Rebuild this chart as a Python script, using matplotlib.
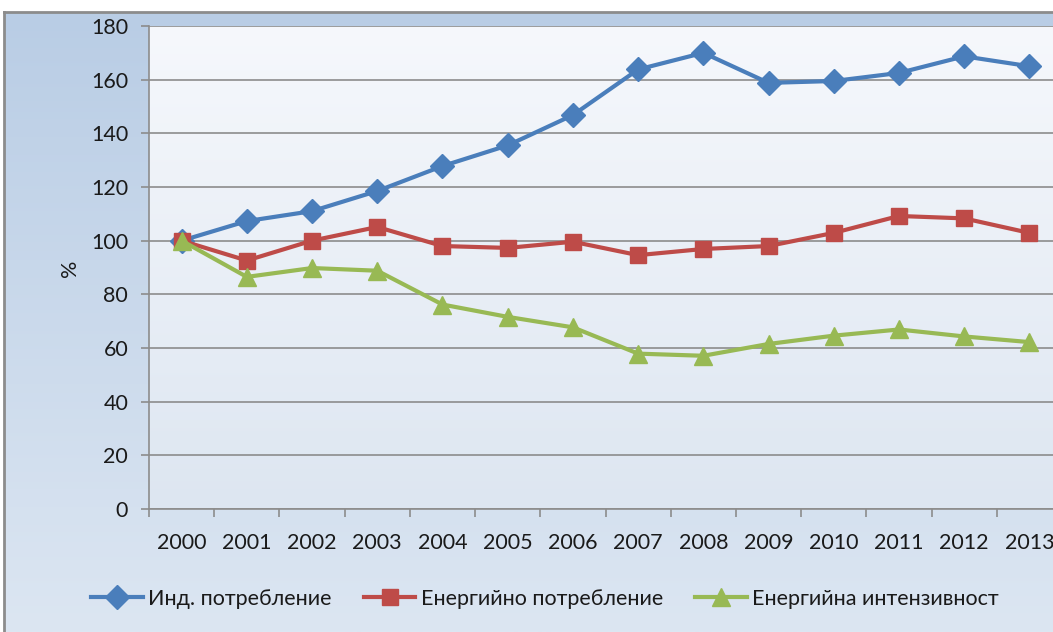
import numpy as np
import matplotlib.pyplot as plt
from matplotlib.colors import LinearSegmentedColormap

plt.rcParams['font.family'] = ['Lato', 'DejaVu Sans']

years = ['2000', '2001', '2002', '2003', '2004', '2005', '2006',
         '2007', '2008', '2009', '2010', '2011', '2012', '2013']
ind_consumption = [100, 107.3, 111, 118.5, 127.8, 135.5, 146.8,
                   163.8, 170, 158.8, 159.5, 162.5, 168.7, 165]
energy_consumption = [100, 92.6, 100, 105.1, 98, 97.3, 99.6,
                      94.6, 96.9, 98, 102.9, 109.2, 108.3, 102.9]
energy_intensity = [100, 86.5, 89.8, 88.8, 76.2, 71.6, 67.7,
                    57.9, 57.1, 61.5, 64.6, 66.9, 64.3, 62.2]
labels = ['Инд. потребление', 'Енергийно потребление', 'Енергийна интензивност']

W, H = 1053, 632
fs = 15.5
fig = plt.figure(figsize=(W / 100, H / 100), dpi=100)

# chart area background (gradient, gray frame)
bg = fig.add_axes([4 / W, 0, 1, (H - 12) / H], zorder=-2)
cm_bg = LinearSegmentedColormap.from_list('bg', ['#b9cde5', '#dce6f2'])
bg.imshow(np.linspace(0, 1, 256).reshape(-1, 1), cmap=cm_bg, aspect='auto',
          extent=[0, 1, 0, 1])
bg.set_xlim(0, 1)
bg.set_ylim(0, 1)
bg.set_xticks([])
bg.set_yticks([])
for s in ['right', 'bottom']:
    bg.spines[s].set_visible(False)
for s in ['left', 'top']:
    bg.spines[s].set_color('#8c8c8c')
    bg.spines[s].set_linewidth(2)

# plot area
left, right, top, bottom = 149, 1062, 26, 509
pos = [left / W, 1 - bottom / H, (right - left) / W, (bottom - top) / H]

pa = fig.add_axes(pos, zorder=-1)
cm_pa = LinearSegmentedColormap.from_list('pa', ['#f6f8fc', '#dde6f1'])
pa.imshow(np.linspace(0, 1, 256).reshape(-1, 1), cmap=cm_pa, aspect='auto',
          extent=[0, 1, 0, 1])
pa.set_xlim(0, 1)
pa.set_ylim(0, 1)
pa.axis('off')

ax = fig.add_axes(pos)
ax.set_facecolor('none')
x = np.arange(len(years))
ax.plot(x, ind_consumption, color='#4a7ebb', lw=3, marker='D', ms=12,
        label=labels[0])
ax.plot(x, energy_consumption, color='#be4b48', lw=3, marker='s', ms=12,
        label=labels[1])
ax.plot(x, energy_intensity, color='#98b954', lw=3, marker='^', ms=13,
        label=labels[2])

ax.set_xlim(-0.5, len(years) - 0.5)
ax.set_ylim(0, 180)
ax.set_yticks(range(0, 181, 20))
ax.yaxis.grid(True, color='#8c8c8c', lw=1.2)
ax.set_axisbelow(True)

# tick marks between categories, labels at the centres
ax.set_xticks(np.append(-0.5, x + 0.5))
ax.set_xticklabels([])
ax.set_xticks(x, minor=True)
ax.set_xticklabels(years, minor=True)
ax.tick_params(axis='x', which='major', length=6, color='#8c8c8c', width=1.2)
ax.tick_params(axis='x', which='minor', length=0, pad=17, labelsize=fs,
               labelcolor='#1a1a1a')
ax.tick_params(axis='y', length=6, color='#8c8c8c', width=1.2, pad=9,
               labelsize=fs, labelcolor='#1a1a1a')

for s in ['top', 'right']:
    ax.spines[s].set_visible(False)
for s in ['left', 'bottom']:
    ax.spines[s].set_color('#8c8c8c')
    ax.spines[s].set_linewidth(1.2)

fig.text(70 / W, 1 - 268 / H, '%', rotation=90, fontsize=fs,
         ha='center', va='center', color='#1a1a1a')

fig.legend(loc='center', bbox_to_anchor=(545 / W, 1 - 599 / H), ncol=3,
           frameon=False, fontsize=fs, handlelength=2.4, handletextpad=0.25,
           columnspacing=1.5, labelcolor='#1a1a1a')

fig.savefig('out.png', dpi=100)
